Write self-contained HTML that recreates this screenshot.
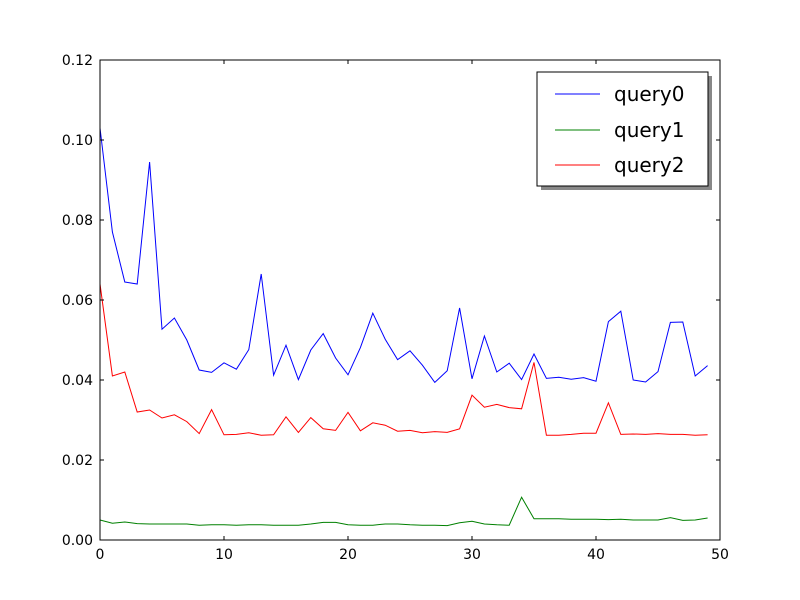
<!DOCTYPE html>
<html><head><meta charset="utf-8"><style>
body{margin:0;background:#fff}
svg{display:block;font-family:"DejaVu Sans","Liberation Sans",sans-serif}
</style></head><body>
<svg id="chart" width="800" height="600" viewBox="0 0 800 600">
<rect width="800" height="600" fill="#fff"/>
<g id="plot"></g>
<rect x="100" y="60" width="620" height="480" fill="none" stroke="#000" stroke-width="1"/>
<g id="axes"></g>
<g>
<rect x="541" y="76" width="171" height="114" fill="#888"/>
<rect x="537" y="72" width="171" height="114" fill="#fff" stroke="#000" stroke-width="1"/>
<g><line x1="555" y1="94" x2="600" y2="94" stroke="#0000ff"/><text x="614" y="101" font-size="20">query0</text></g>
<g><line x1="555" y1="130" x2="600" y2="130" stroke="#008000"/><text x="614" y="137" font-size="20">query1</text></g>
<g><line x1="555" y1="165" x2="600" y2="165" stroke="#ff0000"/><text x="614" y="172" font-size="20">query2</text></g>
</g>
</svg>
<script>
const query0 = [0.103,0.077,0.0645,0.064,0.0945,0.0527,0.0555,0.050,0.0425,0.0419,0.0443,0.0427,0.0476,0.0665,0.0412,0.0487,0.0401,0.0475,0.0516,0.0455,0.0413,0.0481,0.0567,0.0502,0.0451,0.0473,0.0437,0.0394,0.0423,0.0580,0.0403,0.0510,0.0420,0.0442,0.0401,0.0465,0.0404,0.0407,0.0402,0.0406,0.0397,0.0546,0.0572,0.0400,0.0395,0.0421,0.0544,0.0545,0.0410,0.0436];
const query1 = [0.005,0.0042,0.0045,0.0041,0.0040,0.0040,0.0040,0.0040,0.0037,0.0038,0.0038,0.0037,0.0038,0.0038,0.0037,0.0037,0.0037,0.0040,0.0044,0.0044,0.0038,0.0037,0.0037,0.0040,0.0040,0.0038,0.0037,0.0037,0.0036,0.0043,0.0047,0.0040,0.0038,0.0037,0.0107,0.0053,0.0053,0.0053,0.0052,0.0052,0.0052,0.0051,0.0052,0.0050,0.0050,0.0050,0.0056,0.0049,0.0050,0.0055];
const query2 = [0.064,0.041,0.042,0.032,0.0325,0.0305,0.0313,0.0296,0.0266,0.0326,0.0263,0.0264,0.0268,0.0262,0.0263,0.0308,0.0269,0.0306,0.0278,0.0274,0.0319,0.0273,0.0293,0.0287,0.0272,0.0274,0.0268,0.0271,0.0269,0.0278,0.0362,0.0332,0.0339,0.0331,0.0328,0.0444,0.0262,0.0262,0.0264,0.0267,0.0267,0.0343,0.0264,0.0265,0.0264,0.0266,0.0264,0.0264,0.0262,0.0263];
const xTicks = [0,10,20,30,40,50];
const yTicks = [0,0.02,0.04,0.06,0.08,0.10,0.12];
const yTickLabels = ["0.00","0.02","0.04","0.06","0.08","0.10","0.12"];

const NS="http://www.w3.org/2000/svg";
const xs=v=>100+v/50*620;
const ys=v=>540-v/0.12*480;
const plot=document.getElementById('plot');
const axes=document.getElementById('axes');
function mk(tag,attrs,parent){const e=document.createElementNS(NS,tag);for(const k in attrs)e.setAttribute(k,attrs[k]);parent.appendChild(e);return e;}
[[query0,'#0000ff','series-query0'],[query1,'#008000','series-query1'],[query2,'#ff0000','series-query2']].forEach(([d,c,n])=>{
  const p=mk('polyline',{points:d.map((v,i)=>xs(i)+','+ys(v)).join(' '),fill:'none',stroke:c,'stroke-width':1},plot);
  
  
});
xTicks.forEach(t=>{
  const x=xs(t);
  mk('line',{x1:x,y1:540,x2:x,y2:536,stroke:'#000'},axes);
  mk('line',{x1:x,y1:60,x2:x,y2:64,stroke:'#000'},axes);
  const tx=mk('text',{x:x,y:559,'font-size':14,'text-anchor':'middle'},axes);
  tx.textContent=t;
  
  
});
yTicks.forEach((t,i)=>{
  const y=ys(t);
  mk('line',{x1:100,y1:y,x2:104,y2:y,stroke:'#000'},axes);
  mk('line',{x1:720,y1:y,x2:716,y2:y,stroke:'#000'},axes);
  const tx=mk('text',{x:93,y:y+5,'font-size':14,'text-anchor':'end'},axes);
  tx.textContent=yTickLabels[i];
  
  
});
</script>
</body></html>
